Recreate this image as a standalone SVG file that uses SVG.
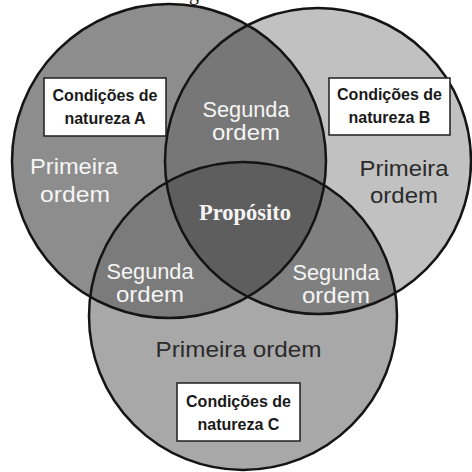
<svg xmlns="http://www.w3.org/2000/svg" width="472" height="472" viewBox="0 0 472 472">
<style>
.edge{fill:none;stroke:#141414;stroke-width:2.5}
.lbl{font-family:"Liberation Sans",Arial,sans-serif;font-size:21.5px;text-anchor:middle}
.w{fill:#f5f5f5}
.d{fill:#2b2b2b}
.box{fill:#ffffff;stroke:#1e1e1e;stroke-width:1.5}
.bt{font-family:"Liberation Sans",Arial,sans-serif;font-size:16px;font-weight:bold;text-anchor:middle;fill:#1a1a1a}
.pp{font-family:"Liberation Serif","Times New Roman",serif;font-size:22.5px;font-weight:bold;text-anchor:middle;fill:#f5f5f5}
</style>
<defs>
<circle id="shA" cx="169" cy="161" r="157"/>
<circle id="shB" cx="318" cy="161" r="153"/>
<circle id="shC" cx="243" cy="316" r="154"/>
<clipPath id="cA"><use href="#shA"/></clipPath>
<clipPath id="cB"><use href="#shB"/></clipPath>
</defs>
<rect width="472" height="472" fill="#ffffff"/>
<text x="189" y="0" font-family="Liberation Serif,serif" font-size="20" fill="#111">g</text>
<g id="regions">
<use href="#shA" fill="#8d8d8d"/>
<use href="#shB" fill="#c1c1c1"/>
<use href="#shC" fill="#a8a8a8"/>
<g clip-path="url(#cA)"><use href="#shB" fill="#777777"/></g>
<g clip-path="url(#cA)"><use href="#shC" fill="#7b7b7b"/></g>
<g clip-path="url(#cB)"><use href="#shC" fill="#808080"/></g>
<g clip-path="url(#cA)"><g clip-path="url(#cB)"><use href="#shC" fill="#5e5e5e"/></g></g>
</g>
<g id="connectors">
<use href="#shA" class="edge"/>
<use href="#shB" class="edge"/>
<use href="#shC" class="edge"/>
</g>
<g id="box-a">
<rect class="box" x="44" y="78" width="122" height="58"/>
<text class="bt" x="105" y="101">Condições de</text>
<text class="bt" x="105" y="124">natureza A</text>
</g>
<g id="box-b">
<rect class="box" x="329" y="78" width="121" height="57"/>
<text class="bt" x="389.5" y="100">Condições de</text>
<text class="bt" x="389.5" y="123">natureza B</text>
</g>
<g id="box-c">
<rect class="box" x="177" y="383" width="123" height="58"/>
<text class="bt" x="238.5" y="407">Condições de</text>
<text class="bt" x="238.5" y="430">natureza C</text>
</g>
<g id="label-a">
<text class="lbl w" x="74" y="174" textLength="88" lengthAdjust="spacingAndGlyphs">Primeira</text>
<text class="lbl w" x="75" y="202" textLength="70" lengthAdjust="spacingAndGlyphs">ordem</text>
</g>
<g id="label-b">
<text class="lbl d" x="404" y="176" textLength="89" lengthAdjust="spacingAndGlyphs">Primeira</text>
<text class="lbl d" x="404" y="203" textLength="68" lengthAdjust="spacingAndGlyphs">ordem</text>
</g>
<g id="label-c">
<text class="lbl d" x="238.5" y="357" textLength="166" lengthAdjust="spacingAndGlyphs">Primeira ordem</text>
</g>
<g id="label-ab">
<text class="lbl w" x="246" y="117" textLength="87" lengthAdjust="spacingAndGlyphs">Segunda</text>
<text class="lbl w" x="246" y="140" textLength="68" lengthAdjust="spacingAndGlyphs">ordem</text>
</g>
<g id="label-ac">
<text class="lbl w" x="150" y="279" textLength="87" lengthAdjust="spacingAndGlyphs">Segunda</text>
<text class="lbl w" x="150" y="302" textLength="68" lengthAdjust="spacingAndGlyphs">ordem</text>
</g>
<g id="label-bc">
<text class="lbl w" x="336" y="280" textLength="87" lengthAdjust="spacingAndGlyphs">Segunda</text>
<text class="lbl w" x="336" y="303" textLength="68" lengthAdjust="spacingAndGlyphs">ordem</text>
</g>
<g id="label-abc">
<text class="pp" x="245" y="220">Propósito</text>
</g>
</svg>
